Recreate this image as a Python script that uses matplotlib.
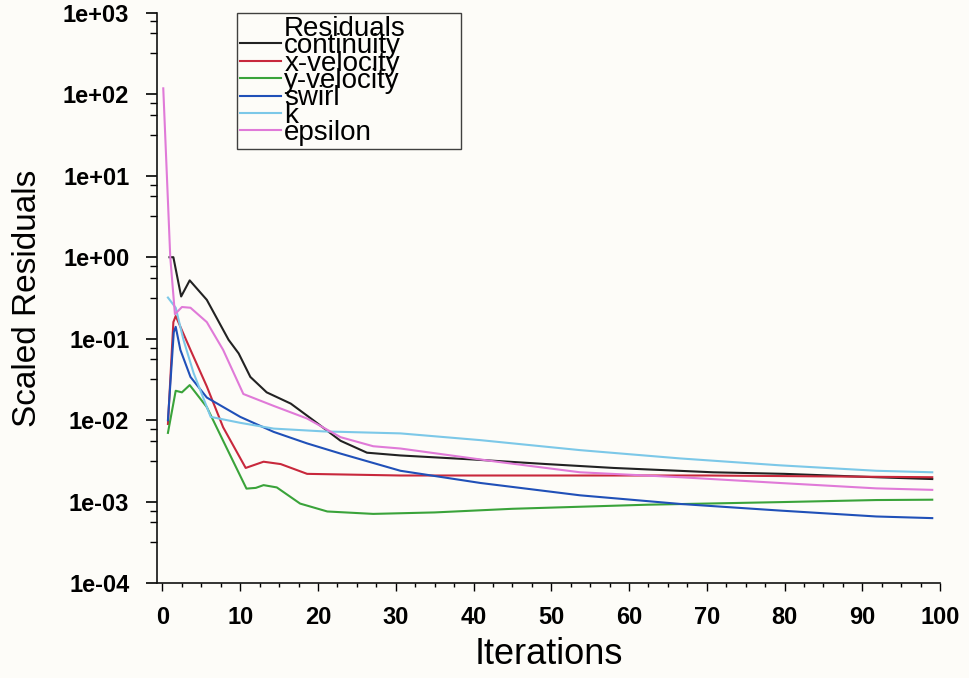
import matplotlib
matplotlib.use('Agg')
import matplotlib.pyplot as plt
from matplotlib.ticker import MultipleLocator, LogLocator, FuncFormatter, NullFormatter

plt.rcParams['font.family'] = ['Liberation Sans', 'DejaVu Sans']

# residual histories (iteration, scaled residual)
cont_it = [0.9, 1.4, 2.4, 3.5, 5.7, 8.5, 9.8, 11.3, 13.4, 16.5, 19.4, 22.9, 26.3, 30.6, 40, 49.4, 58, 70.8, 80, 91.8, 99]
cont_val = [1.0, 1.0, 0.33, 0.52, 0.30, 0.097, 0.066, 0.034, 0.022, 0.016, 0.010, 0.0056, 0.0040, 0.0037,
            0.0033, 0.0029, 0.0026, 0.0023, 0.0022, 0.0020, 0.0019]

xvel_it = [0.7, 1.4, 1.7, 3.6, 5.7, 7.8, 10.7, 13.0, 15.2, 18.6, 30.6, 50, 70, 99]
xvel_val = [0.009, 0.16, 0.19, 0.073, 0.026, 0.0082, 0.0026, 0.0031, 0.0029, 0.0022, 0.0021, 0.0021, 0.0021, 0.0020]

yvel_it = [0.7, 1.7, 2.5, 3.5, 5.7, 7.8, 10.8, 12.0, 13.0, 14.7, 17.7, 21.2, 27.1, 35, 45, 62.3, 79.4, 91.8, 99]
yvel_val = [0.007, 0.023, 0.022, 0.027, 0.0145, 0.0056, 0.00145, 0.00148, 0.0016, 0.0015, 0.00095, 0.00076,
            0.00071, 0.00074, 0.00082, 0.00092, 0.00099, 0.00105, 0.00106]

swirl_it = [0.7, 1.45, 1.7, 2.3, 3.6, 5.7, 10, 14.3, 18.6, 22.9, 30.6, 40.9, 53.7, 66.6, 79.4, 91.8, 99]
swirl_val = [0.01, 0.12, 0.14, 0.073, 0.034, 0.019, 0.011, 0.0072, 0.0052, 0.0039, 0.0024, 0.0017, 0.0012,
             0.00094, 0.00078, 0.00066, 0.00063]

k_it = [0.7, 1.7, 2.7, 4.0, 6.2, 10, 14.3, 20.7, 30.6, 40.9, 53.7, 66.6, 79.4, 91.8, 99]
k_val = [0.32, 0.24, 0.097, 0.038, 0.011, 0.0093, 0.0079, 0.0073, 0.0069, 0.0057, 0.0043, 0.0034, 0.0028,
         0.0024, 0.0023]

eps_it = [0.1, 1.0, 1.6, 2.5, 3.6, 5.7, 7.8, 10.4, 14.3, 18.6, 22.9, 27.1, 30.6, 43, 53.7, 66.6, 79.4, 91.8, 99]
eps_val = [118, 1.0, 0.20, 0.245, 0.24, 0.16, 0.073, 0.021, 0.015, 0.0105, 0.0062, 0.0048, 0.0045, 0.0031,
           0.0023, 0.0020, 0.0017, 0.00146, 0.0014]

series = [
    ('continuity', cont_it, cont_val, '#222222'),
    ('x-velocity', xvel_it, xvel_val, '#c8283c'),
    ('y-velocity', yvel_it, yvel_val, '#3aa33a'),
    ('swirl', swirl_it, swirl_val, '#2050b8'),
    ('k', k_it, k_val, '#7cc8e8'),
    ('epsilon', eps_it, eps_val, '#e07ad8'),
]

bg = '#fdfcf8'
fig = plt.figure(figsize=(9.7, 6.78), dpi=100, facecolor=bg)
ax = fig.add_axes([0.1619, 0.1397, 0.8072, 0.8416], facecolor=bg)

# blank entry acts as the legend title, left aligned with the labels
ax.plot([], [], color='none', label='Residuals')
for name, it, val, col in series:
    ax.plot(it, val, color=col, lw=1.5, label=name)

ax.set_yscale('log')
ax.set_ylim(1e-4, 1e3)
ax.set_xlim(-0.7, 100)

ax.xaxis.set_major_locator(MultipleLocator(10))
ax.xaxis.set_minor_locator(MultipleLocator(2.5))
ax.yaxis.set_major_locator(LogLocator(base=10, numticks=20))
ax.yaxis.set_minor_locator(LogLocator(base=10, subs=(3.2, 5.6, 7.8), numticks=20))
ax.yaxis.set_major_formatter(FuncFormatter(lambda v, p: f'{v:.0e}'))
ax.yaxis.set_minor_formatter(NullFormatter())

for s in ['top', 'right']:
    ax.spines[s].set_visible(False)
for s in ['left', 'bottom']:
    ax.spines[s].set_linewidth(1.2)
    ax.spines[s].set_color('#111111')

ax.tick_params(axis='y', which='major', length=8, width=1.2, pad=12, labelsize=17)
ax.tick_params(axis='y', which='minor', length=5, width=1.0)
ax.tick_params(axis='x', which='major', length=6, width=1.0, pad=10, labelsize=17)
ax.tick_params(axis='x', which='minor', length=3, width=1.0)
for lab in ax.get_xticklabels() + ax.get_yticklabels():
    lab.set_fontweight('bold')

ax.set_xlabel('Iterations', fontsize=26, labelpad=6)
ax.set_ylabel('Scaled Residuals', fontsize=24, labelpad=14)

leg = ax.legend(loc='upper left', bbox_to_anchor=(0.2443, 0.792, 0.2309, 0.1888),
                bbox_transform=fig.transFigure, mode='expand', borderaxespad=0,
                fontsize=20, frameon=True, fancybox=False, borderpad=0.1,
                labelspacing=-0.31, handlelength=1.5, handletextpad=0.1)
leg.get_frame().set_edgecolor('#111111')
leg.get_frame().set_linewidth(1.0)
leg.get_frame().set_facecolor(bg)

fig.savefig('out.png', dpi=100, facecolor=bg)
